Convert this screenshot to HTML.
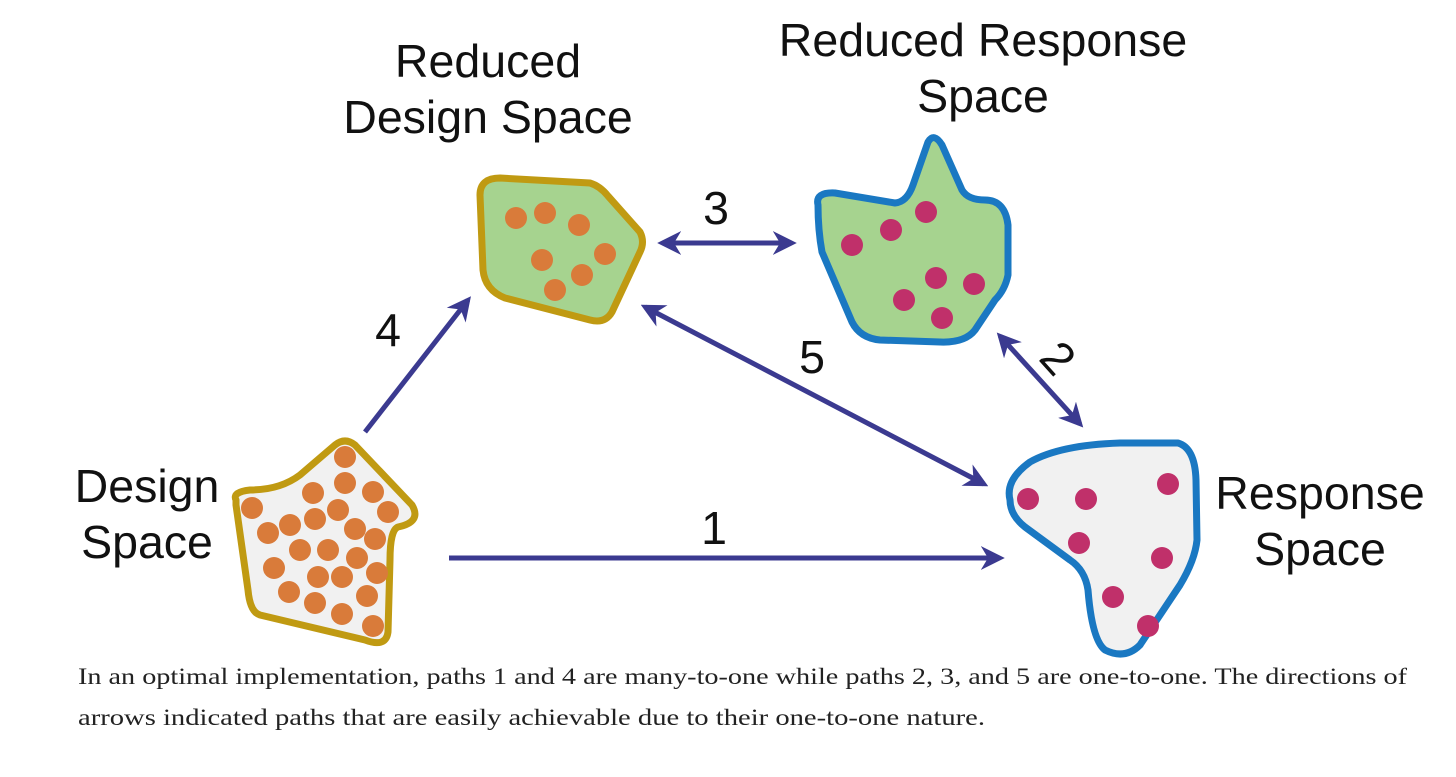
<!DOCTYPE html>
<html><head><meta charset="utf-8"><style>
html,body{margin:0;padding:0;background:#fff;}
svg{display:block;}
.l{font-family:"Liberation Sans",sans-serif;font-size:46.5px;fill:#111;text-anchor:middle;}
.c{font-family:"Liberation Serif",serif;font-size:23px;fill:#222;}
</style></head><body>
<svg width="1456" height="777" viewBox="0 0 1456 777" xmlns="http://www.w3.org/2000/svg">
<defs>
<marker id="a" viewBox="0 0 10 10" refX="8" refY="5" markerWidth="4.8" markerHeight="4.8" orient="auto-start-reverse">
<path d="M0,0 L10,5 L0,10 L3,5 z" fill="#3b3a90"/></marker>
</defs>
<g stroke="#3b3a90" stroke-width="5" fill="none">
<line x1="449" y1="558" x2="1000" y2="558" marker-end="url(#a)"/>
<line x1="365" y1="432" x2="468" y2="300" marker-end="url(#a)"/>
<line x1="662" y1="243" x2="792" y2="243" marker-start="url(#a)" marker-end="url(#a)"/>
<line x1="645" y1="307" x2="984" y2="484" marker-start="url(#a)" marker-end="url(#a)"/>
<line x1="1000" y1="336" x2="1080" y2="424" marker-start="url(#a)" marker-end="url(#a)"/>
</g>
<!-- Design space -->
<path d="M236,500 Q232,492 250,490 Q280,490 300,475 L335,445 Q345,437 355,445 L412,505 Q422,522 398,527 Q390,530 390,560 L388,632 Q386,648 365,640 L260,615 Q250,612 248,590 L236,505 z" fill="#f1f1f1" stroke="#c09a12" stroke-width="7" stroke-linejoin="round"/>
<g fill="#d97b3a">
<circle cx="345" cy="457" r="11"/><circle cx="313" cy="493" r="11"/><circle cx="345" cy="483" r="11"/><circle cx="373" cy="492" r="11"/>
<circle cx="252" cy="508" r="11"/><circle cx="338" cy="510" r="11"/><circle cx="388" cy="512" r="11"/><circle cx="290" cy="525" r="11"/>
<circle cx="315" cy="519" r="11"/><circle cx="355" cy="529" r="11"/><circle cx="268" cy="533" r="11"/><circle cx="300" cy="550" r="11"/>
<circle cx="328" cy="550" r="11"/><circle cx="375" cy="539" r="11"/><circle cx="357" cy="558" r="11"/><circle cx="274" cy="568" r="11"/>
<circle cx="318" cy="577" r="11"/><circle cx="342" cy="577" r="11"/><circle cx="377" cy="573" r="11"/><circle cx="289" cy="592" r="11"/>
<circle cx="367" cy="596" r="11"/><circle cx="315" cy="603" r="11"/><circle cx="342" cy="614" r="11"/><circle cx="373" cy="626" r="11"/>
</g>
<!-- Response space -->
<path d="M1010,500 Q1005,480 1030,462 Q1060,445 1120,443 L1178,443 Q1195,448 1196,480 L1197,540 Q1195,560 1180,585 L1140,645 Q1125,660 1105,650 Q1092,640 1088,590 Q1085,570 1070,560 L1025,527 Q1010,515 1010,500 z" fill="#f1f1f1" stroke="#1a78c2" stroke-width="7" stroke-linejoin="round"/>
<g fill="#c0306a">
<circle cx="1028" cy="499" r="11"/><circle cx="1086" cy="499" r="11"/><circle cx="1168" cy="484" r="11"/><circle cx="1079" cy="543" r="11"/>
<circle cx="1162" cy="558" r="11"/><circle cx="1113" cy="597" r="11"/><circle cx="1148" cy="626" r="11"/>
</g>
<!-- Reduced design -->
<path d="M480,195 Q480,178 500,178 L590,183 Q600,186 608,196 L640,232 Q645,242 640,252 L612,312 Q605,324 590,320 L505,298 Q485,290 483,270 z" fill="#a6d38f" stroke="#c09a12" stroke-width="7" stroke-linejoin="round"/>
<g fill="#d97b3a">
<circle cx="516" cy="218" r="11"/><circle cx="545" cy="213" r="11"/><circle cx="579" cy="225" r="11"/><circle cx="542" cy="260" r="11"/>
<circle cx="605" cy="254" r="11"/><circle cx="582" cy="275" r="11"/><circle cx="555" cy="290" r="11"/>
</g>
<!-- Reduced response -->
<path d="M818,205 Q815,192 835,193 L895,203 Q907,202 913,185 L928,142 Q934,132 942,145 L962,190 Q968,200 985,200 Q1005,200 1008,225 L1008,275 Q1005,290 995,300 L975,330 Q965,343 940,342 L880,340 Q860,338 852,322 L822,252 Q818,230 818,205 z" fill="#a6d38f" stroke="#1a78c2" stroke-width="7" stroke-linejoin="round"/>
<g fill="#c0306a">
<circle cx="852" cy="245" r="11"/><circle cx="891" cy="230" r="11"/><circle cx="926" cy="212" r="11"/><circle cx="936" cy="278" r="11"/>
<circle cx="974" cy="284" r="11"/><circle cx="904" cy="300" r="11"/><circle cx="942" cy="318" r="11"/>
</g>
<!-- labels -->
<text class="l" x="488" y="77">Reduced</text>
<text class="l" x="488" y="133">Design Space</text>
<text class="l" x="983" y="56">Reduced Response</text>
<text class="l" x="983" y="112">Space</text>
<text class="l" x="147" y="502">Design</text>
<text class="l" x="147" y="558">Space</text>
<text class="l" x="1320" y="509">Response</text>
<text class="l" x="1320" y="565">Space</text>
<text class="l" x="716" y="224">3</text>
<text class="l" x="388" y="346">4</text>
<text class="l" x="812" y="373">5</text>
<text class="l" x="714" y="544">1</text>
<text class="l" transform="translate(1058,358) rotate(48)" y="16">2</text>
<text class="c" x="78" y="684" textLength="1329" lengthAdjust="spacingAndGlyphs">In an optimal implementation, paths 1 and 4 are many-to-one while paths 2, 3, and 5 are one-to-one. The directions of</text>
<text class="c" x="78" y="725" textLength="907" lengthAdjust="spacingAndGlyphs">arrows indicated paths that are easily achievable due to their one-to-one nature.</text>
</svg>
</body></html>
